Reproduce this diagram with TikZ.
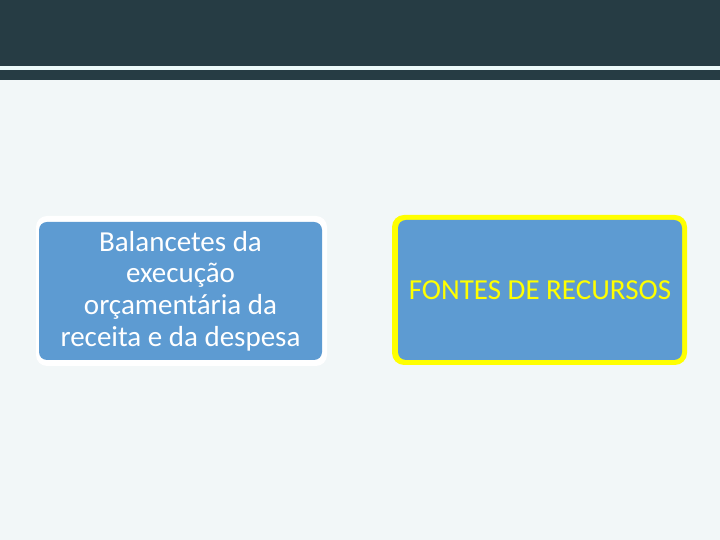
\documentclass[tikz,border=0pt]{standalone}
\usepackage{fontspec}
\setmainfont{Carlito}
\definecolor{darkband}{RGB}{38,60,68}
\definecolor{bgc}{RGB}{242,247,248}
\definecolor{boxblue}{RGB}{93,155,210}
\definecolor{yel}{RGB}{255,255,0}
\definecolor{lineW}{RGB}{236,250,250}
\tikzset{
  boxfill/.style={fill=boxblue, rounded corners=8pt},
  lbl/.style={align=center, font=\fontsize{29}{31.7}\selectfont, inner sep=0pt}
}
\begin{document}
\begin{tikzpicture}[x=1pt,y=1pt]
\useasboundingbox (0,0) rectangle (720,540);
\fill[bgc] (0,0) rectangle (720,540);
\fill[darkband] (0,474) rectangle (720,540);
\fill[lineW] (0,470) rectangle (720,474);
\fill[darkband] (0,460) rectangle (720,470);
% left box
\fill[white, rounded corners=11pt] (36,174) rectangle (327,324);
\fill[boxfill] (39,180) rectangle (322,318);
\node[lbl, text=white] (a) at (180.5,249) {Balancetes da\\execução\\orçamentária da\\receita e da despesa};
% right box
\fill[yel, rounded corners=12pt] (392,175) rectangle (687,325);
\fill[boxfill] (398,180) rectangle (682,320);
\node[lbl, text=yel] (b) at (540,250) {FONTES DE RECURSOS};
\end{tikzpicture}
\end{document}
